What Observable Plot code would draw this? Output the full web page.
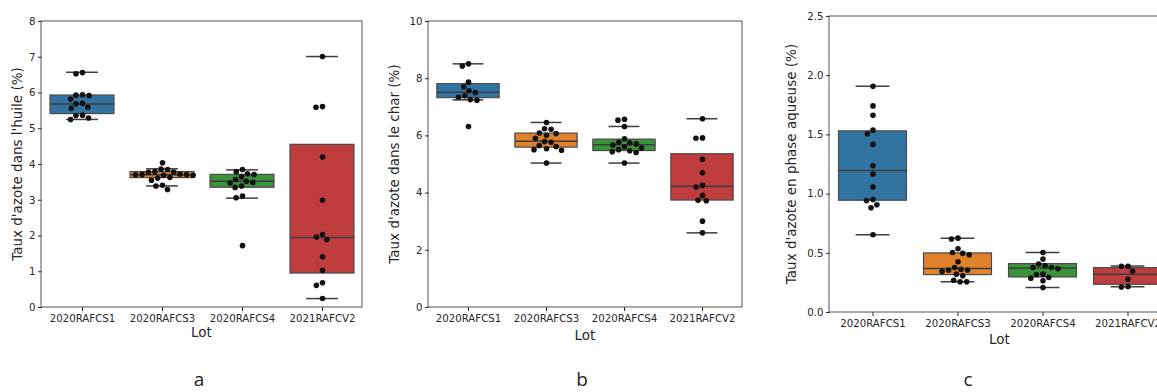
<!DOCTYPE html>
<html><head><meta charset="utf-8">
<script src="https://cdn.jsdelivr.net/npm/d3@7"></script>
<script src="https://cdn.jsdelivr.net/npm/@observablehq/plot@0.6"></script>
<style>
body{margin:0;background:#fff;}
#wrap{position:relative;width:1157px;height:392px;overflow:hidden;font-family:"DejaVu Sans",sans-serif;color:#262626;}
.panel{position:absolute;top:0;}
.t{position:absolute;transform:translate(-50%,-50%);white-space:nowrap;font-size:13.5px;line-height:1;}
.ty{position:absolute;transform:translate(-50%,-50%) rotate(-90deg);white-space:nowrap;font-size:13.5px;line-height:1;}
.letter{position:absolute;transform:translate(-50%,-50%);font-family:"Open Sans",sans-serif;font-size:19px;line-height:1;color:#222;}
</style></head><body><div id="wrap"></div>
<script>
const lots = ["2020RAFCS1", "2020RAFCS3", "2020RAFCS4", "2021RAFCV2"];
const palette = ["#3274a1", "#e1812c", "#3a923a", "#c03d3e"];

// Panel a: Taux d'azote dans l'huile (%)
const oilCS1 = [6.57, 6.54, 5.95, 5.94, 5.93, 5.83, 5.71, 5.70, 5.60, 5.57, 5.38, 5.37, 5.30, 5.26];
const oilCS3 = [4.05, 3.87, 3.86, 3.80, 3.79, 3.78, 3.73, 3.72, 3.72, 3.71, 3.70, 3.70, 3.64, 3.62, 3.56, 3.42, 3.40, 3.30];
const oilCS4 = [3.86, 3.80, 3.74, 3.72, 3.66, 3.58, 3.53, 3.50, 3.48, 3.40, 3.36, 3.12, 3.07, 1.73];
const oilCV2 = [7.02, 5.62, 5.60, 4.21, 3.00, 2.04, 1.97, 1.90, 1.42, 1.04, 0.69, 0.62, 0.25];
const oilQ1 = [5.41, 3.62, 3.35, 0.95];
const oilMedian = [5.69, 3.71, 3.53, 1.96];
const oilQ3 = [5.93, 3.79, 3.71, 4.55];
const oilLow = [5.26, 3.40, 3.06, 0.25];
const oilHigh = [6.58, 3.88, 3.85, 7.02];
const oilTicks = [0, 1, 2, 3, 4, 5, 6, 7, 8];

// Panel b: Taux d'azote dans le char (%)
const charCS1 = [8.52, 8.44, 7.88, 7.72, 7.58, 7.52, 7.40, 7.35, 7.27, 7.25, 6.33];
const charCS3 = [6.47, 6.25, 6.23, 6.10, 6.08, 6.02, 5.92, 5.80, 5.78, 5.66, 5.63, 5.55, 5.52, 5.50, 5.05];
const charCS4 = [6.58, 6.55, 6.33, 5.90, 5.78, 5.76, 5.72, 5.68, 5.62, 5.58, 5.52, 5.48, 5.45, 5.42, 5.05];
const charCV2 = [6.60, 5.93, 5.92, 5.18, 4.71, 4.27, 4.21, 3.92, 3.75, 3.73, 3.02, 2.61];
const charQ1 = [7.32, 5.59, 5.47, 3.74];
const charMedian = [7.53, 5.81, 5.69, 4.24];
const charQ3 = [7.81, 6.08, 5.87, 5.36];
const charLow = [7.26, 5.05, 5.05, 2.61];
const charHigh = [8.52, 6.47, 6.33, 6.60];
const charTicks = [0, 2, 4, 6, 8, 10];

// Panel c: Taux d'azote en phase aqueuse (%)
const aqCS1 = [1.91, 1.745, 1.665, 1.54, 1.51, 1.42, 1.24, 1.17, 1.06, 0.955, 0.945, 0.91, 0.885, 0.657];
const aqCS3 = [0.628, 0.62, 0.538, 0.507, 0.499, 0.488, 0.428, 0.38, 0.364, 0.358, 0.358, 0.347, 0.324, 0.31, 0.273, 0.259, 0.259];
const aqCS4 = [0.507, 0.451, 0.409, 0.395, 0.38, 0.38, 0.37, 0.324, 0.32, 0.296, 0.29, 0.268, 0.211];
const aqCV2 = [0.39, 0.39, 0.35, 0.28, 0.22, 0.215];
const aqQ1 = [0.944, 0.316, 0.296, 0.234];
const aqMedian = [1.20, 0.372, 0.375, 0.324];
const aqQ3 = [1.53, 0.499, 0.409, 0.375];
const aqLow = [0.657, 0.259, 0.211, 0.217];
const aqHigh = [1.91, 0.628, 0.507, 0.392];
const aqTicks = [0, 0.5, 1.0, 1.5, 2.0, 2.5];

const wrap = document.getElementById("wrap");
const edge = "#3d3d3d";

function panel(o) {
  const points = lots.flatMap((lot, i) => o.values[i].map(v => ({lot, v})));
  const stats = lots.map((lot, i) => ({lot, q1: o.q1[i], median: o.median[i], q3: o.q3[i], low: o.low[i], high: o.high[i]}));
  const H = 345;
  const band = (o.width - o.ml - o.mr) / lots.length;
  const plot = Plot.plot({
    width: o.width, height: H,
    marginTop: o.mt, marginRight: o.mr, marginBottom: H - o.bottom, marginLeft: o.ml,
    style: {fontFamily: "DejaVu Sans", fontSize: "10.2px", color: "#262626", background: "transparent", overflow: "visible"},
    fx: {domain: lots, padding: 0, label: null, tickSize: 4, tickPadding: 3},
    x: {axis: null},
    y: {domain: o.domain, ticks: o.ticks, tickFormat: o.format, label: null, tickSize: 4, tickPadding: 3},
    color: {domain: lots, range: palette},
    marks: [
      Plot.ruleX(stats, {fx: "lot", y1: "low", y2: "q1", stroke: edge, strokeWidth: 1.5}),
      Plot.ruleX(stats, {fx: "lot", y1: "q3", y2: "high", stroke: edge, strokeWidth: 1.5}),
      Plot.ruleY(stats, {fx: "lot", y: "low", stroke: edge, strokeWidth: 1.5, insetLeft: band * 0.3, insetRight: band * 0.3}),
      Plot.ruleY(stats, {fx: "lot", y: "high", stroke: edge, strokeWidth: 1.5, insetLeft: band * 0.3, insetRight: band * 0.3}),
      Plot.barY(stats, {fx: "lot", y1: "q1", y2: "q3", fill: "lot", stroke: "#4a4a4a", strokeWidth: 1.2, insetLeft: band * 0.1, insetRight: band * 0.1}),
      Plot.ruleY(stats, {fx: "lot", y: "median", stroke: edge, strokeWidth: 1.5, insetLeft: band * 0.1, insetRight: band * 0.1}),
      Plot.dot(points, Plot.dodgeX("middle", {fx: "lot", y: "v", r: 2.8, padding: 0.3, fill: "#111", stroke: "none"}))
    ]
  });
  d3.select(plot).append("rect")
    .attr("x", o.ml).attr("y", o.mt)
    .attr("width", o.width - o.ml - o.mr).attr("height", o.bottom - o.mt)
    .attr("fill", "none").attr("stroke", "#555").attr("stroke-width", 1);
  plot.classList.add("panel");
  plot.style.left = o.left + "px";
  wrap.appendChild(plot);

  const cx = o.left + (o.ml + o.width - o.mr) / 2;
  const lot = document.createElement("div");
  lot.className = "t"; lot.textContent = "Lot";
  lot.style.left = cx + "px"; lot.style.top = o.lotY + "px";
  wrap.appendChild(lot);
  const yl = document.createElement("div");
  yl.className = "ty"; yl.textContent = o.ylabel;
  yl.style.left = o.ylabelX + "px"; yl.style.top = ((o.mt + o.bottom) / 2) + "px";
  wrap.appendChild(yl);
  const let_ = document.createElement("div");
  let_.className = "letter"; let_.textContent = o.letter;
  let_.style.left = o.letterX + "px"; let_.style.top = "379px";
  wrap.appendChild(let_);
}

panel({
  values: [oilCS1, oilCS3, oilCS4, oilCV2], q1: oilQ1, median: oilMedian, q3: oilQ3, low: oilLow, high: oilHigh,
  domain: [0, 8], ticks: oilTicks, format: d3.format("d"),
  left: 0, width: 380, ml: 41, mr: 18, mt: 21, bottom: 307,
  lotY: 333, ylabel: "Taux d'azote dans l'huile (%)", ylabelX: 18, letter: "a", letterX: 199
});
panel({
  values: [charCS1, charCS3, charCS4, charCV2], q1: charQ1, median: charMedian, q3: charQ3, low: charLow, high: charHigh,
  domain: [0, 10], ticks: charTicks, format: d3.format("d"),
  left: 380, width: 380, ml: 48, mr: 18, mt: 21, bottom: 307,
  lotY: 336, ylabel: "Taux d'azote dans le char (%)", ylabelX: 395, letter: "b", letterX: 582
});
panel({
  values: [aqCS1, aqCS3, aqCS4, aqCV2], q1: aqQ1, median: aqMedian, q3: aqQ3, low: aqLow, high: aqHigh,
  domain: [0, 2.5], ticks: aqTicks, format: d3.format(".1f"),
  left: 770, width: 420, ml: 59, mr: 20, mt: 16, bottom: 312,
  lotY: 340, ylabel: "Taux d'azote en phase aqueuse (%)", ylabelX: 792, letter: "c", letterX: 968
});
</script></body></html>
